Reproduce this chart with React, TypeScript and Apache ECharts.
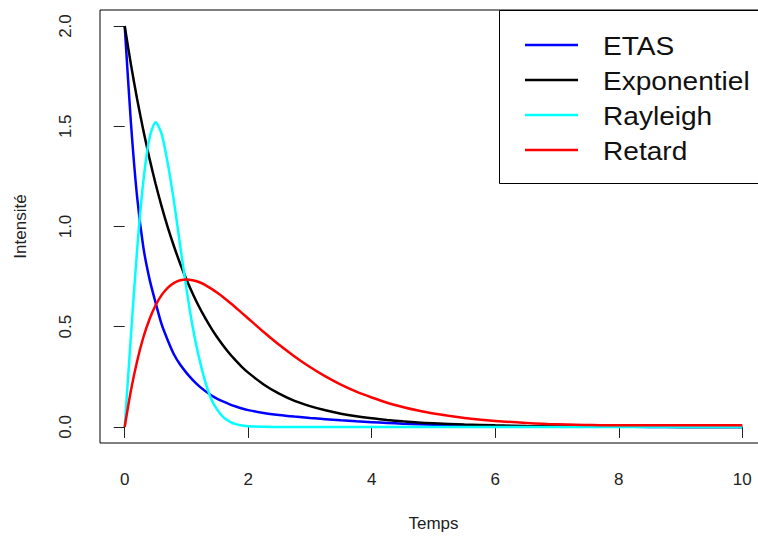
import React, { useEffect, useRef } from "react";
import * as echarts from "echarts";

const TIME = [
  0, 0.1, 0.2, 0.3, 0.4, 0.5, 0.6, 0.7, 0.8, 0.9, 1.0, 1.1, 1.2, 1.3, 1.4, 1.5, 1.6, 1.7, 1.8, 1.9, 2.0,
  2.25, 2.5, 2.75, 3, 3.25, 3.5, 3.75, 4, 4.25, 4.5, 4.75, 5,
  5.5, 6, 6.5, 7, 7.5, 8, 8.5, 9, 9.5, 10,
];

const ETAS = [
  2.0, 1.52, 1.15, 0.9, 0.74, 0.62, 0.51, 0.43, 0.36, 0.31, 0.27, 0.235, 0.205, 0.18, 0.158, 0.14, 0.126, 0.113, 0.102, 0.092, 0.084,
  0.07, 0.06, 0.052, 0.045, 0.039, 0.033, 0.028, 0.024, 0.02, 0.016, 0.013, 0.011,
  0.007, 0.004, 0.003, 0.002, 0.001, 0.001, 0, 0, 0, 0,
];

const EXPONENTIEL = [
  2.0, 1.81, 1.637, 1.482, 1.341, 1.213, 1.098, 0.993, 0.899, 0.813, 0.736, 0.666, 0.602, 0.545, 0.493, 0.446, 0.404, 0.365, 0.331, 0.299, 0.271,
  0.212, 0.166, 0.13, 0.104, 0.083, 0.066, 0.053, 0.043, 0.035, 0.028, 0.022, 0.018,
  0.012, 0.008, 0.005, 0.003, 0.002, 0.001, 0.001, 0, 0, 0,
];

const RAYLEIGH = [
  0, 0.45, 0.88, 1.22, 1.44, 1.52, 1.46, 1.31, 1.12, 0.9, 0.69, 0.5, 0.35, 0.23, 0.14, 0.085, 0.048, 0.027, 0.014, 0.007, 0.003,
  0.001, 0, 0, 0, 0, 0, 0, 0, 0, 0, 0, 0,
  0, 0, 0, 0, 0, 0, 0, 0, 0, 0,
];

const RETARD = [
  0, 0.181, 0.327, 0.445, 0.536, 0.607, 0.659, 0.695, 0.719, 0.732, 0.736, 0.732, 0.723, 0.709, 0.69, 0.669, 0.646, 0.621, 0.595, 0.568, 0.541,
  0.474, 0.41, 0.352, 0.299, 0.252, 0.211, 0.176, 0.147, 0.121, 0.1, 0.082, 0.067,
  0.045, 0.03, 0.02, 0.013, 0.01, 0.008, 0.008, 0.008, 0.008, 0.008,
];

const SERIES_NAMES = ["ETAS", "Exponentiel", "Rayleigh", "Retard"];
const SERIES_VALUES = [ETAS, EXPONENTIEL, RAYLEIGH, RETARD];
const SERIES_COLORS = ["#0000FF", "#000000", "#00FFFF", "#FF0000"];

const X_TICKS = [0, 2, 4, 6, 8, 10];
const Y_TICKS = [0, 0.5, 1.0, 1.5, 2.0];

const FONT = "'Liberation Sans', Arial, sans-serif";

export default function App() {
  const ref = useRef<HTMLDivElement>(null);

  useEffect(() => {
    if (!ref.current) return;
    const chart = echarts.init(ref.current, undefined, { renderer: "svg" });

    const legendGraphics: any[] = [
      {
        type: "rect",
        shape: { x: 499.5, y: 10.5, width: 320, height: 173 },
        style: { fill: "#ffffff", stroke: "#000000", lineWidth: 1 },
        z: 10,
      },
    ];
    SERIES_NAMES.forEach((name, i) => {
      const y = 45 + i * 35;
      legendGraphics.push({
        type: "line",
        shape: { x1: 525, y1: y, x2: 578, y2: y },
        style: { stroke: SERIES_COLORS[i], lineWidth: 2.5 },
        z: 11,
      });
      legendGraphics.push({
        type: "text",
        x: 603,
        y: y + 1,
        scaleX: 1.08,
        style: {
          text: name,
          fill: "#111111",
          font: `26px ${FONT}`,
          textVerticalAlign: "middle",
          textAlign: "left",
        },
        z: 11,
      });
    });

    chart.setOption({
      animation: false,
      backgroundColor: "#ffffff",
      textStyle: { fontFamily: FONT },
      grid: {
        left: 100,
        top: 10,
        width: 667,
        height: 433,
        show: true,
        borderColor: "#000000",
        borderWidth: 1,
        backgroundColor: "transparent",
      },
      xAxis: {
        type: "value",
        min: -0.4,
        max: 10.4,
        name: "Temps",
        nameLocation: "middle",
        nameGap: 72,
        nameTextStyle: { fontSize: 17, color: "#222222", fontFamily: FONT },
        axisLine: { show: false },
        axisTick: {
          show: true,
          length: 11,
          customValues: X_TICKS,
          lineStyle: { color: "#222222", width: 1 },
        },
        axisLabel: {
          customValues: X_TICKS,
          margin: 28,
          fontSize: 17,
          color: "#222222",
          fontFamily: FONT,
        },
        splitLine: { show: false },
      },
      yAxis: {
        type: "value",
        min: -0.08,
        max: 2.08,
        name: "Intensité",
        nameLocation: "middle",
        nameGap: 71,
        nameTextStyle: { fontSize: 17, color: "#222222", fontFamily: FONT },
        axisLine: { show: false },
        axisTick: {
          show: true,
          length: 11,
          customValues: Y_TICKS,
          lineStyle: { color: "#222222", width: 1 },
        },
        axisLabel: {
          customValues: Y_TICKS,
          rotate: 90,
          margin: 26,
          fontSize: 17,
          color: "#222222",
          fontFamily: FONT,
          formatter: (v: number) => v.toFixed(1),
        },
        splitLine: { show: false },
      },
      series: SERIES_NAMES.map((name, i) => ({
        name,
        type: "line",
        data: TIME.map((t, k) => [t, SERIES_VALUES[i][k]]),
        showSymbol: false,
        symbol: "none",
        smooth: 0.25,
        lineStyle: { color: SERIES_COLORS[i], width: 2.5 },
        itemStyle: { color: SERIES_COLORS[i] },
        z: 2 + i,
      })),
      graphic: legendGraphics,
    });

    return () => chart.dispose();
  }, []);

  return (
    <div
      ref={ref}
      style={{ position: "fixed", left: 0, top: 0, width: 780, height: 537 }}
    />
  );
}
